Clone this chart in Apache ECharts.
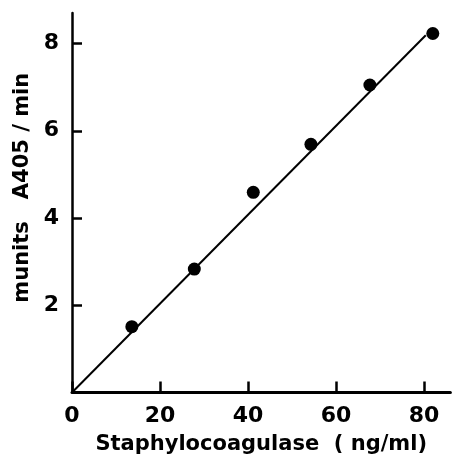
<!DOCTYPE html>
<html>
<head>
<meta charset="utf-8">
<script src="https://cdn.jsdelivr.net/npm/echarts@6/dist/echarts.min.js"></script>
<style>
html,body{margin:0;padding:0;background:#fff;}
#c{width:452px;height:457px;}
</style>
</head>
<body>
<div id="c"></div>
<script>
// Data
var conc = [13.6, 27.8, 41.2, 54.3, 67.7, 82.0];      // Staphylocoagulase (ng/ml)
var rate = [1.51, 2.83, 4.59, 5.69, 7.05, 8.23];       // munits A405/min
var fitX = [0, 80.4];                                   // regression line ends
var fitY = [0, 8.19];
var xTicks = [0, 20, 40, 60, 80];
var yTicks = [2, 4, 6, 8];
var xTitle = 'Staphylocoagulase  ( ng/ml)';
var yTitle = 'munits   A405 / min';

var points = conc.map(function (x, i) { return [x, rate[i]]; });
var fit = fitX.map(function (x, i) { return [x, fitY[i]]; });

var font = '"DejaVu Sans", sans-serif';
var chart = echarts.init(document.getElementById('c'), null, {renderer: 'canvas'});
chart.setOption({
  animation: false,
  backgroundColor: '#fff',
  grid: {left: 72, top: 13, width: 378.4, height: 379.5, containLabel: false, outerBoundsMode: 'none'},
  xAxis: {
    type: 'value', min: 0, max: 86, interval: 20,
    name: xTitle, nameLocation: 'middle', nameGap: 42,
    nameTextStyle: {fontFamily: font, fontWeight: 'bold', fontSize: 21, color: '#000'},
    axisLine: {onZero: false, lineStyle: {color: '#000', width: 3}},
    axisTick: {inside: true, length: 11, customValues: xTicks, lineStyle: {color: '#000', width: 2.5}},
    axisLabel: {customValues: xTicks, margin: 13, fontFamily: font, fontWeight: 'bold', fontSize: 22, color: '#000'},
    splitLine: {show: false}
  },
  yAxis: {
    type: 'value', min: 0, max: 8.7, interval: 2,
    name: yTitle, nameLocation: 'middle', nameGap: 36, nameRotate: 90,
    nameTextStyle: {fontFamily: font, fontWeight: 'bold', fontSize: 21, color: '#000', padding: [0, 0, 0, 30]},
    axisLine: {onZero: false, lineStyle: {color: '#000', width: 2.5}},
    axisTick: {inside: true, length: 10, customValues: yTicks, lineStyle: {color: '#000', width: 2.5}},
    axisLabel: {customValues: yTicks, margin: 13, fontFamily: font, fontWeight: 'bold', fontSize: 22, color: '#000'},
    splitLine: {show: false}
  },
  series: [
    {
      type: 'line', data: fit, symbol: 'none', silent: true,
      lineStyle: {color: '#000', width: 2}
    },
    {
      type: 'scatter', data: points, symbol: 'circle', symbolSize: 13,
      itemStyle: {color: '#000', opacity: 1}
    }
  ]
});
</script>
</body>
</html>
